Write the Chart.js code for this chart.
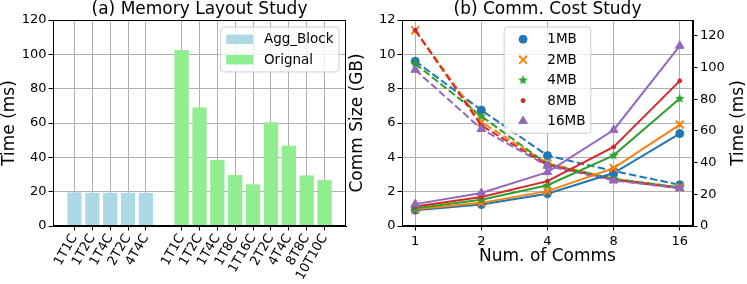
<!DOCTYPE html>
<html>
<head>
<meta charset="utf-8">
<script src="https://cdn.jsdelivr.net/npm/chart.js@4.4.0/dist/chart.umd.min.js"></script>
<style>
    html, body { margin: 0; padding: 0; background: #fff; }
    #wrap { position: relative; width: 747px; height: 284px; overflow: hidden; }
    canvas { position: absolute; top: 0; }
    #left { left: 0; }
    #right { left: 345px; }
</style>
</head>
<body>
<div id="wrap">
    <canvas id="left" width="350" height="284"></canvas>
    <canvas id="right" width="402" height="284"></canvas>
</div>
<script>
/* DATA: (a) memory layout */
const aggLabels = ["1T1C", "1T2C", "1T4C", "2T2C", "4T4C"];
const aggTime = [19.6, 19.3, 19.3, 19.3, 19.2];
const origLabels = ["1T1C", "1T2C", "1T4C", "1T8C", "1T16C", "2T2C", "4T4C", "8T8C", "10T10C"];
const origTime = [102.5, 69.0, 38.5, 29.7, 24.3, 60.4, 46.7, 29.5, 26.7];

/* DATA: (b) comm cost */
const comms = [1, 2, 4, 8, 16];
const sizeLabels = ["1MB", "2MB", "4MB", "8MB", "16MB"];
const size1MB = [9.6, 6.75, 4.1, 3.2, 2.4];
const size2MB = [11.4, 6.05, 3.65, 2.75, 2.25];
const size4MB = [9.45, 6.4, 3.6, 2.75, 2.25];
const size8MB = [11.4, 5.85, 3.55, 2.7, 2.2];
const size16MB = [9.1, 5.65, 3.5, 2.65, 2.2];
const time1MB = [10.0, 13.5, 20.4, 33.4, 58.3];
const time2MB = [10.5, 14.6, 22.0, 36.5, 64.0];
const time4MB = [11.2, 16.6, 25.7, 44.6, 80.4];
const time8MB = [12.3, 18.3, 28.3, 49.9, 91.6];
const time16MB = [13.8, 20.8, 34.0, 60.6, 113.7];

const timeTicks = [0, 20, 40, 60, 80, 100, 120];

Chart.defaults.font.family = "'DejaVu Sans', sans-serif";
Chart.defaults.color = "#000";
Chart.defaults.animation = false;

const GRID = "#b0b0b0";
const FONT_TICK = { size: 13 };
const FONT_LABEL = { size: 17, lineHeight: 20 / 17 };

/* filled 5-point star like matplotlib '*' */
function starCanvas(color, r) {
    const c = document.createElement("canvas");
    const s = Math.ceil(r * 2 + 2);
    c.width = s;
    c.height = s;
    const g = c.getContext("2d");
    g.beginPath();
    for (let i = 0; i < 10; i++) {
        const rr = i % 2 === 0 ? r : r * 0.42;
        const ang = -Math.PI / 2 + i * Math.PI / 5;
        const px = s / 2 + rr * Math.cos(ang);
        const py = s / 2 + rr * Math.sin(ang);
        if (i === 0) g.moveTo(px, py); else g.lineTo(px, py);
    }
    g.closePath();
    g.fillStyle = color;
    g.fill();
    return c;
}

/* black frame round the plot area */
const framePlugin = {
    id: "frame",
    afterDraw(chart) {
        const { ctx, chartArea: a } = chart;
        ctx.save();
        ctx.strokeStyle = "#000";
        ctx.lineWidth = 1;
        const l = Math.round(a.left) + 0.5, t = Math.round(a.top) + 0.5;
        const r = Math.round(a.right) - 0.5, b = Math.round(a.bottom) - 0.5;
        ctx.strokeRect(l, t, r - l, b - t);
        ctx.restore();
    }
};

/* matplotlib style legend box, loc = "right" (upper right) or "center" (upper center) */
function boxLegend(items, loc) {
    return {
        id: "boxLegend",
        afterDraw(chart) {
            const { ctx, chartArea: a } = chart;
            const fs = 13.5, pad = 0.4 * fs, handle = 2 * fs, tpad = 0.8 * fs;
            const rowH = 13.7, gap = 0.5 * fs;
            ctx.save();
            ctx.font = fs + "px 'DejaVu Sans'";
            const tw = Math.max(...items.map(it => ctx.measureText(it.label).width));
            const w = pad * 2 + handle + tpad + tw;
            const h = pad * 2 + items.length * rowH + (items.length - 1) * gap;
            const x = loc === "center" ? (a.left + a.right) / 2 - w / 2 : a.right - 7 - w;
            const y = a.top + 7;

            ctx.beginPath();
            ctx.roundRect(x, y, w, h, 3);
            ctx.fillStyle = "rgba(255,255,255,0.8)";
            ctx.fill();
            ctx.strokeStyle = "#cccccc";
            ctx.lineWidth = 1;
            ctx.stroke();

            items.forEach((it, i) => {
                const cy = y + pad + rowH / 2 + i * (rowH + gap);
                const hx = x + pad;
                if (it.type === "patch") {
                    ctx.fillStyle = it.color;
                    ctx.fillRect(hx, cy - 0.35 * fs, handle, 0.7 * fs);
                } else {
                    ctx.fillStyle = it.color;
                    ctx.strokeStyle = it.color;
                    ctx.lineWidth = it.borderWidth;
                    Chart.helpers.drawPoint(ctx, {
                        pointStyle: it.pointStyle,
                        radius: it.radius,
                        borderWidth: it.borderWidth,
                        rotation: 0
                    }, hx + handle / 2, cy);
                }
                ctx.fillStyle = "#000";
                ctx.textBaseline = "middle";
                ctx.textAlign = "left";
                ctx.fillText(it.label, hx + handle + tpad, cy + 0.5);
            });
            ctx.restore();
        }
    };
}

/* (a) MEMORY LAYOUT */
const aggX = aggLabels.map((_, i) => i);
const origX = origLabels.map((_, i) => aggLabels.length + 1 + i);
const tickNames = {};
aggX.forEach((x, i) => tickNames[x] = aggLabels[i]);
origX.forEach((x, i) => tickNames[x] = origLabels[i]);

new Chart(document.getElementById("left"), {
    type: "bar",
    data: {
        datasets: [
            {
                label: "Agg_Block",
                data: aggX.map((x, i) => ({ x, y: aggTime[i] })),
                backgroundColor: "#add8e6",
                grouped: false,
                barPercentage: 0.8,
                categoryPercentage: 1
            },
            {
                label: "Orignal",
                data: origX.map((x, i) => ({ x, y: origTime[i] })),
                backgroundColor: "#90ee90",
                grouped: false,
                barPercentage: 0.8,
                categoryPercentage: 1
            }
        ]
    },
    options: {
        responsive: false,
        layout: { padding: { left: 0, right: 4, top: 0, bottom: 0 } },
        plugins: {
            legend: { display: false },
            tooltip: { enabled: false },
            title: {
                display: true,
                text: "(a) Memory Layout Study",
                font: { size: 17, weight: "normal", lineHeight: 20 / 17 },
                padding: 0,
                fullSize: false,
                color: "#000"
            }
        },
        scales: {
            x: {
                type: "linear",
                offset: false,
                min: -1.2,
                max: 15.2,
                afterBuildTicks: s => { s.ticks = aggX.concat(origX).map(v => ({ value: v })); },
                afterFit: s => { s.height = 58; },
                ticks: {
                    font: FONT_TICK,
                    autoSkip: false,
                    minRotation: 60,
                    maxRotation: 60,
                    padding: 1,
                    callback: v => tickNames[v]
                },
                grid: { color: GRID, tickColor: "#000", tickLength: 4.5, offset: false },
                border: { color: "#000" }
            },
            y: {
                min: 0,
                max: 120,
                ticks: { stepSize: 20, font: FONT_TICK, padding: 2 },
                afterFit: s => { s.width = 53; },
                grid: { color: GRID, tickColor: "#000", tickLength: 4.5 },
                border: { color: "#000" },
                title: { display: true, text: "Time (ms)", font: FONT_LABEL, padding: 0 }
            }
        }
    },
    plugins: [framePlugin, boxLegend([
        { label: "Agg_Block", type: "patch", color: "#add8e6" },
        { label: "Orignal", type: "patch", color: "#90ee90" }
    ], "right")]
});

/* (b) COMM COST */
const series = [
    { label: sizeLabels[0], size: size1MB, time: time1MB, color: "#1f77b4", pointStyle: "circle", radius: 4, borderWidth: 1 },
    { label: sizeLabels[1], size: size2MB, time: time2MB, color: "#ff7f0e", pointStyle: "crossRot", radius: 5.5, borderWidth: 2 },
    { label: sizeLabels[2], size: size4MB, time: time4MB, color: "#2ca02c", pointStyle: starCanvas("#2ca02c", 5.2), radius: 5, borderWidth: 1 },
    { label: sizeLabels[3], size: size8MB, time: time8MB, color: "#d62728", pointStyle: "circle", radius: 2, borderWidth: 1 },
    { label: sizeLabels[4], size: size16MB, time: time16MB, color: "#9467bd", pointStyle: "triangle", radius: 5, borderWidth: 1 }
];

function lineSet(s, values, axis, dashed) {
    return {
        label: s.label,
        data: comms.map((c, i) => ({ x: c, y: values[i] })),
        yAxisID: axis,
        borderColor: s.color,
        backgroundColor: s.color,
        borderWidth: 2,
        borderDash: dashed ? [7.5, 3.2] : [],
        pointStyle: s.pointStyle,
        pointRadius: s.radius,
        pointBorderWidth: s.borderWidth,
        pointBackgroundColor: s.color,
        pointBorderColor: s.color,
        tension: 0,
        fill: false
    };
}

// first dataset is drawn on top
const solidSets = series.slice().reverse().map(s => lineSet(s, s.time, "y1", false));
const dashedSets = series.slice().reverse().map(s => lineSet(s, s.size, "y", true));

const rightTitle = {
    id: "rightTitle",
    afterDraw(chart) {
        const { ctx, chartArea: a } = chart;
        ctx.save();
        ctx.translate(393.3, (a.top + a.bottom) / 2);
        ctx.rotate(-Math.PI / 2);
        ctx.font = "17px 'DejaVu Sans'";
        ctx.fillStyle = "#000";
        ctx.textAlign = "center";
        ctx.textBaseline = "middle";
        ctx.fillText("Time (ms)", 0, 0);
        ctx.restore();
    }
};

new Chart(document.getElementById("right"), {
    type: "line",
    data: { datasets: solidSets.concat(dashedSets) },
    options: {
        responsive: false,
        layout: { padding: 0 },
        plugins: {
            legend: { display: false },
            tooltip: { enabled: false },
            title: {
                display: true,
                text: "(b) Comm. Cost Study",
                font: { size: 17, weight: "normal", lineHeight: 20 / 17 },
                padding: 0,
                fullSize: false,
                color: "#000"
            }
        },
        scales: {
            x: {
                type: "logarithmic",
                min: Math.pow(2, -0.2),
                max: Math.pow(2, 4.2),
                afterBuildTicks: s => { s.ticks = comms.map(v => ({ value: v })); },
                afterFit: s => { s.height = 58; },
                ticks: { font: FONT_TICK, padding: 3, callback: v => String(v) },
                grid: { color: GRID, tickColor: "#000", tickLength: 4.5 },
                border: { color: "#000" },
                title: { display: true, text: "Num. of Comms", font: FONT_LABEL, padding: { top: 0, bottom: 17 } }
            },
            y: {
                position: "left",
                min: 0,
                max: 12,
                ticks: { stepSize: 2, font: FONT_TICK, padding: 2 },
                afterFit: s => { s.width = 57; },
                grid: { color: GRID, tickColor: "#000", tickLength: 4.5 },
                border: { color: "#000" },
                title: { display: true, text: "Comm Size (GB)", font: FONT_LABEL, padding: { top: 3, bottom: 0 } }
            },
            y1: {
                position: "right",
                min: 0,
                max: 130,
                afterBuildTicks: s => { s.ticks = timeTicks.map(v => ({ value: v })); },
                afterFit: s => { s.width = 54; },
                ticks: { font: FONT_TICK, padding: 2.5 },
                grid: { drawOnChartArea: false, tickColor: "#000", tickLength: 4.5 },
                border: { color: "#000" }
            }
        }
    },
    plugins: [framePlugin, rightTitle, boxLegend(series.map(s => ({
        label: s.label,
        type: "marker",
        color: s.color,
        pointStyle: s.pointStyle,
        radius: s.radius,
        borderWidth: s.borderWidth
    })), "center")]
});
</script>
</body>
</html>
